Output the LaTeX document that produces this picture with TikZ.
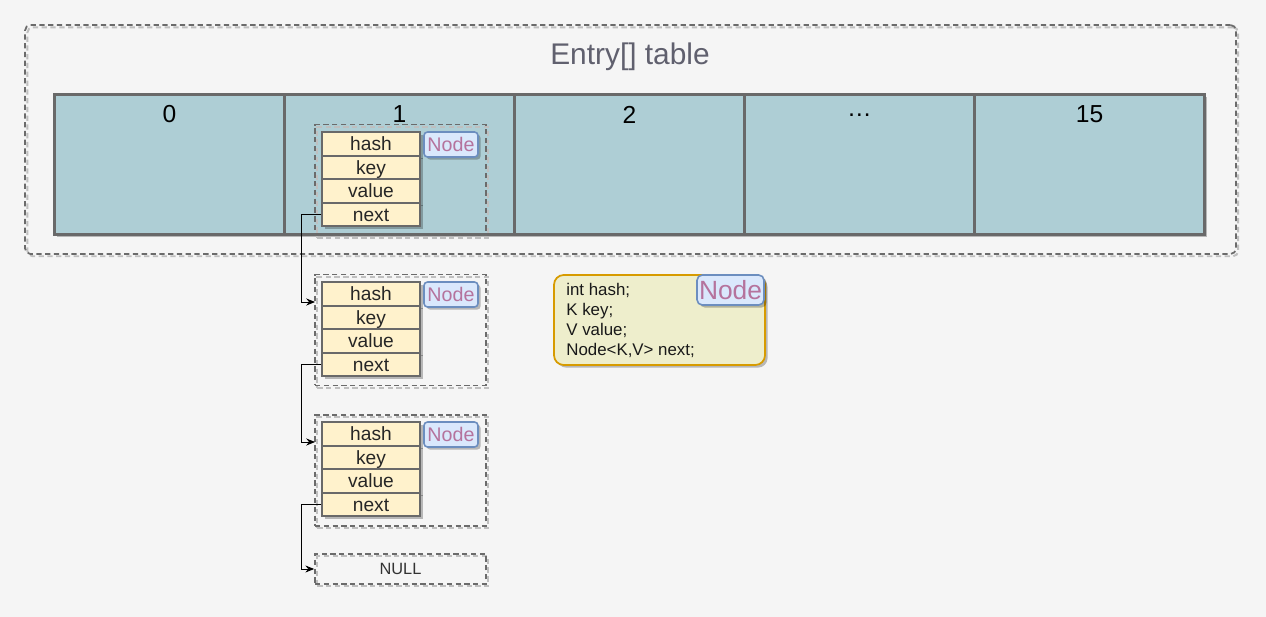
\documentclass[tikz,border=0pt]{standalone}
\usepackage{fontspec}
\setmainfont{Liberation Sans}
\usepackage{tikz}
\usetikzlibrary{positioning,arrows.meta,shadows}
\definecolor{bgcol}{RGB}{245,245,245}
\definecolor{tablefill}{RGB}{174,206,213}
\definecolor{tableline}{RGB}{105,105,105}
\definecolor{fieldfill}{RGB}{255,242,204}
\definecolor{tagfill}{RGB}{218,232,252}
\definecolor{tagline}{RGB}{108,142,191}
\definecolor{tagtext}{RGB}{181,115,157}
\definecolor{codefill}{RGB}{238,238,204}
\definecolor{codeline}{RGB}{215,155,0}
\definecolor{titletext}{RGB}{96,96,110}

\begin{document}
\begin{tikzpicture}[x=0.02cm,y=-0.02cm]
\tikzstyle{shade}=[drop shadow={shadow xshift=1.5pt,shadow yshift=-1.5pt,opacity=0.25,fill=black}]
\tikzstyle{cell}=[rectangle,draw=tableline,fill=tablefill,line width=1.3pt,minimum width=4.6cm,minimum height=2.8cm,inner sep=0pt,shade]
\tikzstyle{num}=[inner sep=0pt,font=\fontsize{14}{16}\selectfont]
\tikzstyle{field}=[rectangle,draw=tableline,fill=fieldfill,line width=1.1pt,minimum width=1.96cm,minimum height=0.475cm,inner sep=0pt,text height=7.8pt,text depth=0pt,font=\fontsize{10.9}{12}\selectfont,text=black!85,shade]
\tikzstyle{tag}=[rectangle,rounded corners=2pt,draw=tagline,fill=tagfill,line width=0.9pt,minimum width=1.08cm,minimum height=0.5cm,inner sep=0pt,text=tagtext,font=\fontsize{11.2}{12}\selectfont,shade]
\tikzstyle{group}=[rectangle,draw=black!58,dash pattern=on 3pt off 2pt,line width=1pt,minimum width=3.42cm,minimum height=2.22cm,inner sep=0pt,
  preaction={draw=black!25,dash pattern=on 3pt off 2pt,line width=1.1pt,transform canvas={xshift=1.3pt,yshift=-1.3pt}}]
\tikzstyle{link}=[-{Stealth[length=5pt,width=4pt]},black,line width=0.5pt]
    \fill[bgcol] (0,0) rectangle (1266,617);
    \useasboundingbox (0,0) rectangle (1266,617);
    % outer frame
    \node[group,rounded corners=3pt,minimum width=24.22cm,minimum height=4.58cm] (frame) at (630.5,139.5) {};
    \node[anchor=base,text=titletext,font=\fontsize{17}{20}\selectfont] (title) at (630,65) {Entry[] table};
    % table cells
    \node[cell] (c0) at (169.5,164.5) {};
    \node[cell] (c1) at (399.5,164.5) {};
    \node[cell] (c2) at (629.5,164.5) {};
    \node[cell] (c3) at (859.5,164.5) {};
    \node[cell] (c4) at (1089.5,164.5) {};
    \node[num] (n0) at (169.5,114.5) {0};
    \node[num] (n1) at (399.5,114.5) {1};
    \node[num] (n2) at (629.5,114.5) {2};
    \node[num] (n3) at (859.5,115) {…};
    \node[num] (n4) at (1089.5,114.5) {15};
    % first node
    \node[group] (g1) at (400.5,180) {};
    \node[field] (hash1) at (371,144) {hash};
    \node[field] (key1) at (371,167.5) {key};
    \node[field] (value1) at (371,191) {value};
    \node[field] (next1) at (371,214.5) {next};
    \node[tag] (tag1) at (451,144.5) {Node};
    % second node
    \node[group] (g2) at (400.5,330) {};
    \node[field] (hash2) at (371,294) {hash};
    \node[field] (key2) at (371,317.5) {key};
    \node[field] (value2) at (371,341) {value};
    \node[field] (next2) at (371,364.5) {next};
    \node[tag] (tag2) at (451,294.5) {Node};
    % third node
    \node[group] (g3) at (400.5,470.5) {};
    \node[field] (hash3) at (371,434) {hash};
    \node[field] (key3) at (371,457.5) {key};
    \node[field] (value3) at (371,481) {value};
    \node[field] (next3) at (371,504.5) {next};
    \node[tag] (tag3) at (451,434.5) {Node};
    % end of list
    \node[group,minimum height=0.6cm,text=black!80,font=\fontsize{9.3}{11}\selectfont] (null) at (400.5,569) {NULL};
    \coordinate (in2) at (315,302);
    \coordinate (in3) at (315,442);
    \draw[link] (next1.west) -- ++(-20,0) |- (in2);
    \draw[link] (next2.west) -- ++(-20,0) |- (in3);
    \draw[link] (next3.west) -- ++(-20,0) |- (null.west);
    % node class
    \node[rectangle,rounded corners=5.5pt,draw=codeline,fill=codefill,line width=1pt,minimum width=4.22cm,minimum height=1.8cm,shade] (code) at (659.5,320) {};
    \node[anchor=north west,inner sep=0pt,align=left,font=\fontsize{9.6}{11.3}\selectfont,text=black!90] (fields) at (566,283) {int hash;\\K key;\\V value;\\Node<K,V> next;};
    \node[tag,rounded corners=3pt,minimum width=1.34cm,minimum height=0.6cm,font=\fontsize{15}{17}\selectfont] (bigtag) at (730.5,290) {Node};
  \end{tikzpicture}
\end{document}
